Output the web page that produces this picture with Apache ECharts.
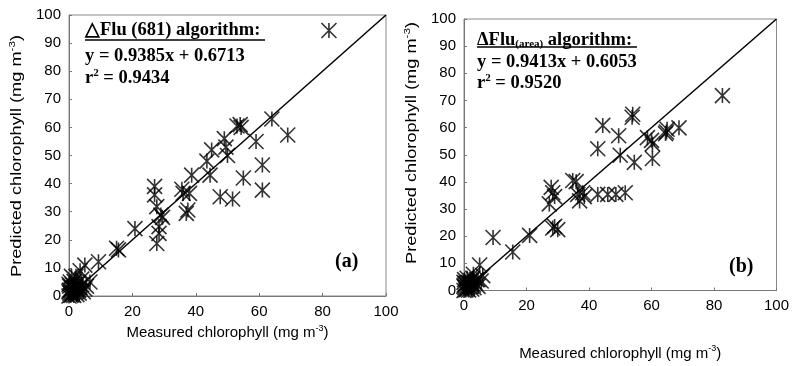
<!DOCTYPE html>
<html>
<head>
<meta charset="utf-8">
<script src="https://cdn.jsdelivr.net/npm/echarts@6/dist/echarts.min.js"></script>
<style>
  html, body { margin: 0; padding: 0; background: #fff; }
  #main { width: 792px; height: 366px; }
</style>
</head>
<body>
<div id="main"></div>
<script>
// panel (a): dFlu(681) algorithm, [measured, predicted]
const pointsA = [
  [82, 94.5], [64, 63], [69, 57.3], [54, 61], [54.3, 60], [53, 60.5], [59, 55],
  [61, 46.6], [61, 37.7], [55, 42], [47.7, 35.3], [51.6, 34.5],
  [49, 56], [49.5, 53], [50, 50], [45, 52], [43.5, 48], [44.5, 43],
  [38.7, 43], [38, 36.5], [37.5, 30.6], [37, 29.4], [35.6, 38], [36, 36.5],
  [27, 39], [27, 36], [27.7, 31.8], [28.4, 24.7], [28.4, 22.3], [27.7, 18.7],
  [29, 28.8], [29.5, 28], [20.8, 24], [15.6, 16.4], [15, 17], [9.3, 12.2],
  [5, 11], [3.5, 9], [2.2, 7], [6.6, 5], [0.8, 7], [4, 6],
  [0, 0], [0.3, 1], [0.5, 2], [1, 0.5], [1.5, 3], [2, 1.5], [2.5, 0.5], [3, 2],
  [0.2, 3.5], [1, 4], [0.6, 0.2], [1.8, 2.5], [3.5, 3], [4.5, 1.5], [2.8, 4.5],
  [0.1, 2], [1.2, 1.2], [4, 4], [5.5, 3.5], [0.4, 5], [0, 1.5], [0.8, 2.8],
  [1.5, 0.2], [2.2, 3.5], [3.2, 1], [0, 4.2], [1.6, 5.2], [2.6, 2.6], [5, 2.5]
];
// panel (b): dFlu(area) algorithm
const pointsB = [
  [82.7, 71.8], [68.8, 59.9], [65, 59.4], [64.8, 58.4], [64.5, 57.8], [60, 55.3],
  [58.7, 56.3], [60.3, 54], [60.3, 48.6], [54.5, 47.2], [54, 64.9], [53.8, 63.8],
  [49.5, 57], [50, 49.8], [44.4, 60.8], [42.8, 52.2], [42.8, 35.4], [46, 35.4],
  [48.6, 35.4], [51.6, 36], [38, 36], [38.5, 34.6], [35.9, 40.1], [34.8, 40.5],
  [36.4, 35.4], [37, 33], [27.9, 38], [28.4, 36], [29, 34.6], [27.3, 31.9],
  [28.4, 23], [30, 22.4], [29, 23.6], [21, 20.3], [15.6, 14.2], [9.3, 19.5],
  [5, 9.4], [6, 5.5], [4.5, 4], [3, 6],
  [0, 0], [0.3, 1], [0.5, 2.5], [1, 0.5], [1.5, 3], [2, 1.5], [2.5, 0.5], [3, 2],
  [0.2, 4], [1, 4.5], [0.6, 0.2], [1.8, 2.5], [3.5, 3], [4.5, 1.5], [2.8, 4.5],
  [0.1, 2], [1.2, 1.2], [4, 4], [5.5, 3.5], [0, 1.5], [0.8, 2.8], [1.5, 0.2],
  [2.2, 3.5], [3.2, 1], [0, 3], [2.6, 2.6]
];
const oneToOne = [[0, 0], [100, 100]];
const axisMin = 0, axisMax = 100, yStep = 10, xStep = 20;

const star = 'path://M-7,-7L7,7M-7,7L7,-7M0,-7L0,7';

function axisCommon(step) {
  return {
    type: 'value', min: axisMin, max: axisMax, interval: step,
    splitLine: { show: false },
    axisLine: { show: true, lineStyle: { color: '#777', width: 1 } },
    axisTick: { show: true, inside: true, length: 3, lineStyle: { color: '#777' } },
    axisLabel: { color: '#000', fontSize: 15, fontFamily: 'Liberation Sans' }
  };
}
const supRich = { sup: { fontSize: 9, verticalAlign: 'top', padding: [0, 0, 9, 0], fontFamily: 'Liberation Sans' } };
const nameStyle = { color: '#000', fontSize: 15, fontFamily: 'Liberation Sans', rich: supRich };

function scatter(idx, data) {
  return {
    type: 'scatter', xAxisIndex: idx, yAxisIndex: idx, data: data,
    symbol: star, symbolSize: 15,
    itemStyle: { color: 'rgba(0,0,0,0)', borderColor: '#000', borderWidth: 1.6 }
  };
}
function diag(idx) {
  return {
    type: 'line', xAxisIndex: idx, yAxisIndex: idx, data: oneToOne,
    symbol: 'none', lineStyle: { color: '#000', width: 1.5 }, z: 1
  };
}
function yTitle(x, y) {
  return {
    type: 'text', x: x, y: y, rotation: Math.PI / 2, scaleX: 1.3,
    style: { text: 'Predicted chlorophyll (mg m{sup|-3})', align: 'center', verticalAlign: 'middle',
      fontFamily: 'Liberation Sans', fontSize: 14, fill: '#000', rich: supRich }
  };
}

const chart = echarts.init(document.getElementById('main'));
const bold = { fontFamily: 'Liberation Serif', fontWeight: 'bold', fontSize: 18.5, fill: '#000', verticalAlign: 'middle' };
const sup2 = { s: { fontFamily: 'Liberation Serif', fontWeight: 'bold', fontSize: 11, verticalAlign: 'top', padding: [0, 0, 9, 0] } };
chart.setOption({
  backgroundColor: '#fff',
  animation: false,
  grid: [
    { left: 69, top: 15, width: 317, height: 281, show: true, borderColor: '#888', borderWidth: 1 },
    { left: 464, top: 19, width: 313, height: 283, show: true, borderColor: '#888', borderWidth: 1 }
  ],
  xAxis: [
    Object.assign(axisCommon(xStep), { gridIndex: 0, name: 'Measured chlorophyll (mg m{sup|-3})',
      nameLocation: 'middle', nameGap: 25, nameTextStyle: nameStyle }),
    Object.assign(axisCommon(xStep), { gridIndex: 1, name: 'Measured chlorophyll (mg m{sup|-3})',
      nameLocation: 'middle', nameGap: 54, nameTextStyle: nameStyle })
  ],
  yAxis: [
    Object.assign(axisCommon(yStep), { gridIndex: 0 }),
    Object.assign(axisCommon(yStep), { gridIndex: 1 })
  ],
  series: [diag(0), scatter(0, pointsA), diag(1), scatter(1, pointsB)],
  graphic: [
    yTitle(17, 156),
    yTitle(412, 143),
    { type: 'text', x: 85, y: 30, style: Object.assign({ text: '\u25B3Flu (681) algorithm:' }, bold) },
    { type: 'line', shape: { x1: 85, y1: 40, x2: 265, y2: 40 }, style: { stroke: '#000', lineWidth: 1.3 } },
    { type: 'text', x: 85, y: 56, style: Object.assign({ text: 'y = 0.9385x + 0.6713' }, bold) },
    { type: 'text', x: 85, y: 78, style: Object.assign({ text: 'r{s|2} = 0.9434', rich: sup2 }, bold) },
    { type: 'text', x: 335, y: 262, style: Object.assign({}, bold, { text: '(a)', fontSize: 20 }) },

    { type: 'text', x: 477, y: 40, style: Object.assign({
      text: '\u0394Flu{s|(area)} algorithm:',
      rich: { s: { fontFamily: 'Liberation Serif', fontWeight: 'bold', fontSize: 11, verticalAlign: 'bottom', padding: [7, 0, 0, 0] } } }, bold) },
    { type: 'line', shape: { x1: 477, y1: 47, x2: 637, y2: 47 }, style: { stroke: '#000', lineWidth: 1.3 } },
    { type: 'text', x: 477, y: 62, style: Object.assign({ text: 'y = 0.9413x + 0.6053' }, bold) },
    { type: 'text', x: 477, y: 83, style: Object.assign({ text: 'r{s|2} = 0.9520', rich: sup2 }, bold) },
    { type: 'text', x: 729, y: 267, style: Object.assign({}, bold, { text: '(b)', fontSize: 20 }) }
  ]
});
</script>
</body>
</html>
